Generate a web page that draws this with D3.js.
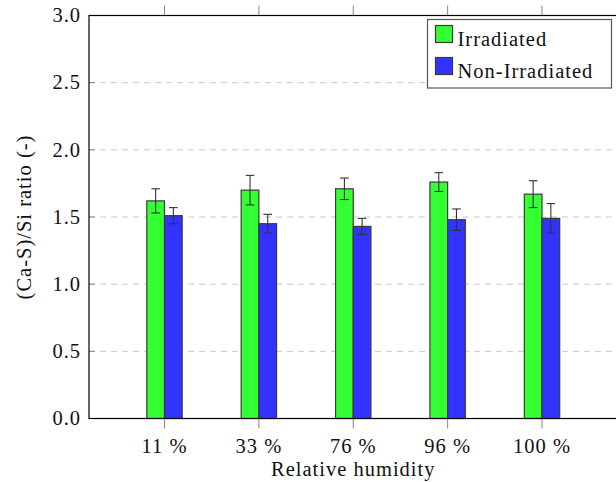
<!DOCTYPE html>
<html>
<head>
<meta charset="utf-8">
<script src="https://cdn.jsdelivr.net/npm/d3@7"></script>
<style>
  body { margin: 0; background: #fff; }
  svg { display: block; font-family: "Liberation Serif", serif; }
  svg text { letter-spacing: 1px; }
</style>
</head>
<body>
<svg id="chart"></svg>
<script>
const categories = ['11 %', '33 %', '76 %', '96 %', '100 %'];
const seriesNames = ['Irradiated', 'Non-Irradiated'];
const irradiated = [1.62, 1.70, 1.71, 1.76, 1.67];
const irradiatedErr = [0.09, 0.11, 0.08, 0.07, 0.10];
const nonIrradiated = [1.51, 1.45, 1.43, 1.48, 1.49];
const nonIrradiatedErr = [0.06, 0.07, 0.06, 0.08, 0.11];
const yTicks = [0, 0.5, 1.0, 1.5, 2.0, 2.5, 3.0];

const W = 616, H = 482;
const plotL = 89, plotR = 617.5, plotT = 15.5, plotB = 418.5;
const fontSize = 20.5;

const svg = d3.select('#chart').attr('width', W).attr('height', H);

const x = d3.scalePoint().domain(categories).range([plotL, plotR]).padding(0.8);
const y = d3.scaleLinear().domain([0, 3]).range([plotB, plotT]);
const barW = x.step() * 0.1875;
const xs = d3.scaleBand().domain(seriesNames).range([-barW, barW]).padding(0);
const color = d3.scaleOrdinal().domain(seriesNames).range(['#33ff33', '#3333ff']);

// dashed grid
svg.append('g').selectAll('line').data(yTicks.filter(d => d > 0 && d < 3)).join('line')
  .attr('x1', plotL).attr('x2', plotR)
  .attr('y1', d => y(d)).attr('y2', d => y(d))
  .attr('stroke', '#c8c8c8').attr('stroke-width', 1)
  .attr('stroke-dasharray', '6,5');

// bars
const rows = categories.map((c, i) => [
  { cat: c, s: 'Irradiated', v: irradiated[i], e: irradiatedErr[i] },
  { cat: c, s: 'Non-Irradiated', v: nonIrradiated[i], e: nonIrradiatedErr[i] }
]).flat();

svg.append('g').selectAll('rect').data(rows).join('rect')
  .attr('x', d => x(d.cat) + xs(d.s))
  .attr('y', d => y(d.v))
  .attr('width', xs.bandwidth())
  .attr('height', d => plotB - y(d.v))
  .attr('fill', d => color(d.s))
  .attr('stroke', '#3a3a3a').attr('stroke-width', 1.2);

// error bars
const eb = svg.append('g').attr('stroke', '#333').attr('stroke-width', 1.1).attr('fill', 'none');
rows.forEach(d => {
  const cx = x(d.cat) + xs(d.s) + xs.bandwidth() / 2;
  const y0 = y(d.v - d.e), y1 = y(d.v + d.e);
  eb.append('line').attr('x1', cx).attr('x2', cx).attr('y1', y0).attr('y2', y1);
  eb.append('line').attr('x1', cx - 4.3).attr('x2', cx + 4.3).attr('y1', y0).attr('y2', y0);
  eb.append('line').attr('x1', cx - 4.3).attr('x2', cx + 4.3).attr('y1', y1).attr('y2', y1);
});

// y ticks (inside) and labels
svg.append('g').selectAll('line').data(yTicks).join('line')
  .attr('x1', plotL).attr('x2', plotL + 6)
  .attr('y1', d => y(d)).attr('y2', d => y(d))
  .attr('stroke', '#888').attr('stroke-width', 1);

svg.append('g').selectAll('text').data(yTicks).join('text')
  .attr('x', 81).attr('y', d => y(d)).attr('dy', '0.33em')
  .attr('text-anchor', 'end').attr('font-size', fontSize).attr('fill', '#111')
  .text(d => d.toFixed(1));

// x ticks top and bottom (outside)
svg.append('g').selectAll('line').data(categories).join('line')
  .attr('x1', d => x(d)).attr('x2', d => x(d))
  .attr('y1', plotT - 10).attr('y2', plotT)
  .attr('stroke', '#888').attr('stroke-width', 1);
svg.append('g').selectAll('line').data(categories).join('line')
  .attr('x1', d => x(d)).attr('x2', d => x(d))
  .attr('y1', plotB).attr('y2', plotB + 10)
  .attr('stroke', '#888').attr('stroke-width', 1);

svg.append('g').selectAll('text').data(categories).join('text')
  .attr('x', d => x(d)).attr('y', 453)
  .attr('text-anchor', 'middle').attr('font-size', fontSize).attr('fill', '#111')
  .text(d => d);

// frame
svg.append('rect')
  .attr('x', plotL).attr('y', plotT).attr('width', plotR - plotL).attr('height', plotB - plotT)
  .attr('fill', 'none').attr('stroke', '#000').attr('stroke-width', 1.2);

// axis titles
svg.append('text')
  .attr('x', (plotL + plotR) / 2).attr('y', 476)
  .attr('text-anchor', 'middle').attr('font-size', fontSize).attr('fill', '#111')
  .text('Relative humidity');

svg.append('text')
  .attr('transform', `translate(31,${(plotT + plotB) / 2}) rotate(-90)`)
  .attr('text-anchor', 'middle').attr('font-size', fontSize).attr('fill', '#111')
  .text('(Ca-S)/Si ratio (-)');

// legend
const lg = svg.append('g').attr('transform', 'translate(427.5,19.5)');
lg.append('rect').attr('width', 184).attr('height', 68.5)
  .attr('fill', '#fff').attr('stroke', '#555').attr('stroke-width', 1.2);

seriesNames.forEach((s, i) => {
  const row = lg.append('g').attr('transform', `translate(0,${i * 32})`);
  row.append('rect').attr('x', 8).attr('y', 6).attr('width', 17).attr('height', 17)
    .attr('fill', color(s)).attr('stroke', '#3a3a3a').attr('stroke-width', 1.2);
  row.append('text').attr('x', 30).attr('y', 26)
    .attr('font-size', fontSize).attr('fill', '#111').text(s);
});
</script>
</body>
</html>
